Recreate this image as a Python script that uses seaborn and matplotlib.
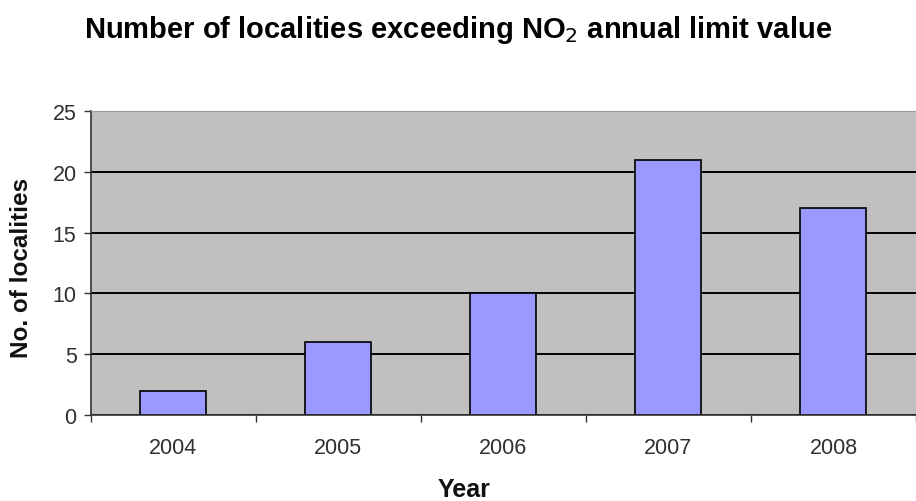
import matplotlib
matplotlib.use("Agg")
import matplotlib.pyplot as plt
import seaborn as sns
import numpy as np
import pandas as pd

# Datos
years = ["2004", "2005", "2006", "2007", "2008"]
localities = [2, 6, 10, 21, 17]

df = pd.DataFrame({"Year": years, "Localities": localities})

sns.set_style("white")
plt.rcParams["font.family"] = ["Liberation Sans", "DejaVu Sans"]

fig = plt.figure(figsize=(9.16, 5.02), dpi=100)
ax = fig.add_axes([90.5 / 916, 1 - 416 / 502, (916 - 90.5) / 916, (416 - 112) / 502])

ax.set_facecolor("#C0C0C0")
ax.set_axisbelow(True)
ax.yaxis.grid(True, color="black", linewidth=1.4)

sns.barplot(data=df, x="Year", y="Localities", color="#9999FF", saturation=1,
            edgecolor="black", linewidth=1.2, width=0.40, ax=ax)

ax.set_ylim(0, 25)
ax.set_yticks(np.arange(0, 26, 5))
ax.set_xlim(-0.5, 4.42)

# ticks de categoria entre barras
ax.set_xticks(np.arange(-0.5, 5, 1), minor=True)
ax.tick_params(axis="x", which="major", length=0, pad=16, labelsize=15.5, labelcolor="#303030")
ax.tick_params(axis="x", which="minor", length=5, width=1, color="#333333", direction="out", bottom=True)
ax.tick_params(axis="y", length=5, width=1, color="#333333", direction="out", left=True,
               labelsize=15.5, labelcolor="#303030", pad=5)

ax.spines["right"].set_visible(False)
ax.spines["top"].set_color("#999999")
ax.spines["left"].set_color("#333333")
ax.spines["bottom"].set_color("#333333")
ax.spines["left"].set_linewidth(1.2)
ax.spines["bottom"].set_linewidth(1.2)

ax.set_xlabel("Year", fontsize=18, fontweight="bold", va="center", color="#111111")
ax.set_ylabel("No. of localities", fontsize=17.5, fontweight="bold", va="center", color="#111111")
ax.xaxis.set_label_coords(0.4525, (416 - 490) / 304)
ax.yaxis.set_label_coords((22 - 90.5) / 825.5, (416 - 268) / 304)

fig.text(0.5, 1 - 30 / 502, r"Number of localities exceeding NO$_2$ annual limit value",
         ha="center", va="center", fontsize=21, fontweight="bold", color="black")

fig.savefig("out.png", dpi=100)
